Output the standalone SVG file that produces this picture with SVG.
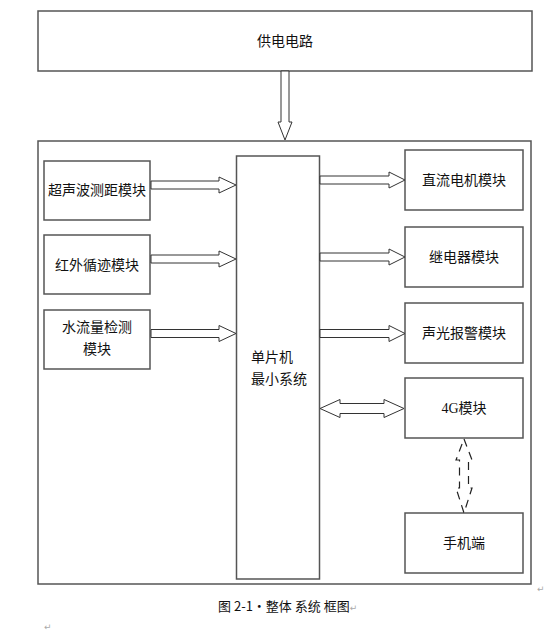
<svg xmlns="http://www.w3.org/2000/svg" width="557" height="636" viewBox="0 0 557 636">
<style>
.box{fill:#fff;stroke:#555;stroke-width:1.5}
.arr{fill:#fff;stroke:#333;stroke-width:1}
.dash{fill:#fff;stroke:#222;stroke-width:1.2;stroke-dasharray:8,6}
.t{font-family:"Noto Sans CJK SC","Liberation Sans",sans-serif;font-size:14px;fill:#111;text-anchor:middle}
.cap{font-family:"Noto Sans CJK SC","Liberation Serif",serif;font-size:13px;fill:#111}
.mark{font-family:"DejaVu Sans",sans-serif;font-size:9px;fill:#aaa}
</style>
<rect width="557" height="636" fill="#fff"/>
<g id="outer"><rect class="box" x="38" y="141" width="493" height="443"/></g>
<g id="power"><rect class="box" x="38" y="11" width="494" height="60"/><text class="t" x="285" y="46">供电电路</text></g>
<g id="mcu"><rect class="box" x="236.5" y="156" width="83" height="423"/><text class="t" x="251" y="362" style="text-anchor:start">单片机</text><text class="t" x="251" y="384" style="text-anchor:start">最小系统</text></g>
<g id="ultra"><rect class="box" x="44" y="161" width="106" height="59"/><text class="t" x="97" y="195">超声波测距模块</text></g>
<g id="ir"><rect class="box" x="44" y="235" width="106" height="59"/><text class="t" x="97" y="270">红外循迹模块</text></g>
<g id="water"><rect class="box" x="44" y="310" width="106" height="59"/><text class="t" x="97" y="332">水流量检测</text><text class="t" x="97" y="354">模块</text></g>
<g id="motor"><rect class="box" x="405" y="150" width="118" height="60"/><text class="t" x="464" y="185">直流电机模块</text></g>
<g id="relay"><rect class="box" x="405" y="227" width="118" height="60"/><text class="t" x="464" y="262">继电器模块</text></g>
<g id="alarm"><rect class="box" x="405" y="303" width="118" height="60"/><text class="t" x="464" y="338">声光报警模块</text></g>
<g id="g4"><rect class="box" x="405" y="378" width="118" height="60"/><text class="t" x="464" y="413"><tspan style="font-family:'Liberation Serif',serif">4G</tspan>模块</text></g>
<g id="phone"><rect class="box" x="405" y="513" width="118" height="60"/><text class="t" x="464" y="548">手机端</text></g>
<g id="connectors">
<polygon class="arr" points="281,71 289,71 289,122 292,122 285,140 278,122 281,122"/>
<polygon class="arr" points="151,181 219,181 219,177 236,185 219,193 219,189 151,189"/>
<polygon class="arr" points="151,255 219,255 219,251 236,259 219,267 219,263 151,263"/>
<polygon class="arr" points="151,329.5 219,329.5 219,325.5 236,333.5 219,341.5 219,337.5 151,337.5"/>
<polygon class="arr" points="320,176 389,176 389,172 405,180 389,188 389,184 320,184"/>
<polygon class="arr" points="320,253 389,253 389,249 405,257 389,265 389,261 320,261"/>
<polygon class="arr" points="320,329.5 389,329.5 389,325.5 405,333.5 389,341.5 389,337.5 320,337.5"/>
<polygon class="arr" points="320,408.5 340,399.5 340,403.5 384,403.5 384,399.5 404,408.5 384,417.5 384,413.5 340,413.5 340,417.5"/>
<polygon class="dash" points="464,439 472,460 468.5,460 468.5,488 472,488 464,513 456,488 459.5,488 459.5,460 456,460"/>
</g>
<text class="cap" x="218" y="611">图 2-1·整体 系统 框图<tspan class="mark">↵</tspan></text>
<text class="mark" x="537" y="592">↵</text>
<text class="mark" x="44" y="630">↵</text>
</svg>
